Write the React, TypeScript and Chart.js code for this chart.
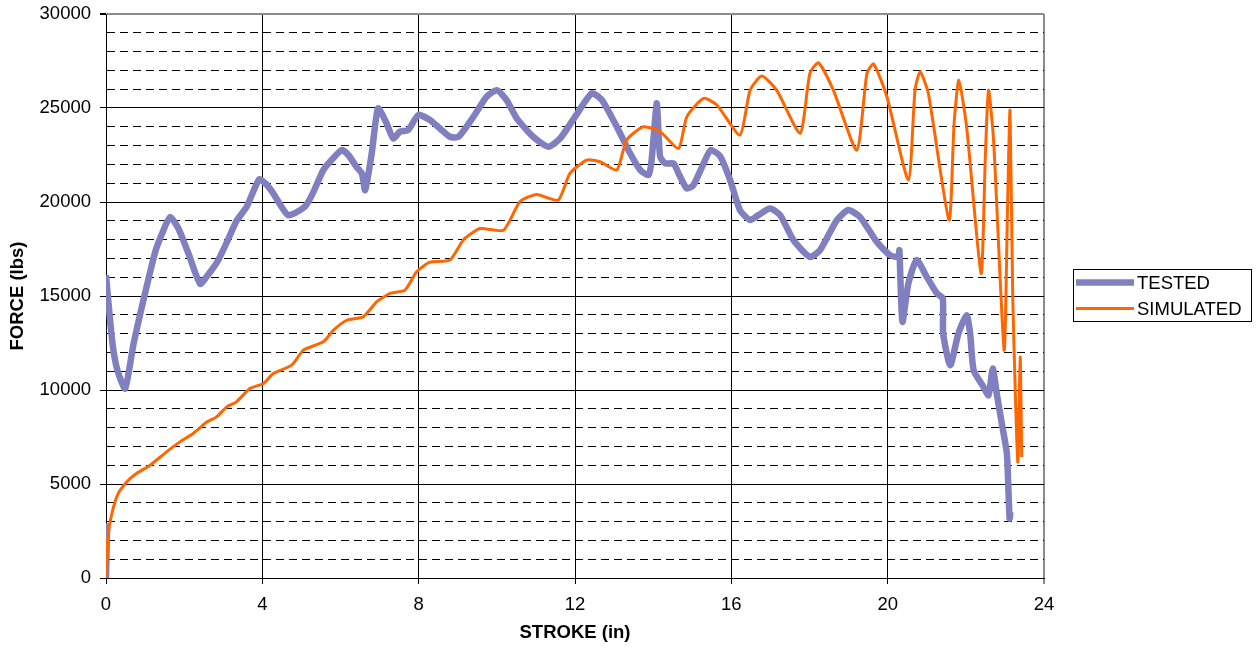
import React, { useEffect, useRef } from "react";
import { Chart, registerables } from "chart.js";

Chart.register(...registerables);

// Measured force–stroke curve (lbs vs in). A null force breaks the trace.
const strokeTested = [
  0, 0.03, 0.03,
  0.0, 0.1, 0.19, 0.3, 0.49, 0.7, 0.96, 1.26, 1.47, 1.64, 1.85, 2.11, 2.41, 2.6, 2.87, 3.1, 3.34,
  3.6, 3.92, 4.1, 4.28, 4.66, 5.09, 5.3, 5.56, 5.8, 6.03, 6.2, 6.41, 6.55, 6.63, 6.8, 6.96, 7.18,
  7.35, 7.52, 7.73, 7.99, 8.29, 8.55, 8.8, 9.02, 9.4, 9.74, 10.0, 10.25, 10.51, 10.93, 11.32,
  11.62, 12.0, 12.43, 12.69, 13.07, 13.41, 13.67, 13.88, 13.96, 14.09, 14.13, 14.18, 14.31,
  14.52, 14.65, 14.86, 15.03, 15.29, 15.47, 15.71, 15.97, 16.22, 16.48, 16.69, 16.99, 17.25,
  17.59, 18.01, 18.27, 18.7, 18.99, 19.29, 19.72, 20.06, 20.27, 20.3, 20.33, 20.38, 20.53,
  20.74, 21.0, 21.26, 21.41, 21.42, 21.6, 21.81, 22.02, 22.11, 22.2, 22.45, 22.58, 22.69,
  22.79, 22.92, 23.05, 23.09, 23.12, 23.14,
];
const forceTested = [
  0, 2900, null,
  16100, 13800, 12100, 11000, 10080, 12400, 14800, 17350, 18500, 19200, 18600, 17260, 15650,
  16100, 16900, 17900, 19000, 19750, 21200, 20950, 20460, 19300, 19750, 20500, 21700, 22300,
  22760, 22500, 21870, 21500, 20630, 22600, 24980, 24180, 23380, 23740, 23830, 24620, 24360,
  23900, 23470, 23470, 24530, 25600, 25950, 25420, 24450, 23470, 22940, 23380, 24530, 25780,
  25420, 24000, 22590, 21700, 21430, 22230, 25250, 24000, 22400, 22050, 22050, 21520, 20720,
  20900, 22050, 22760, 22450, 21170, 19570, 19040, 19300, 19660, 19300, 17970, 17080, 17440,
  19040, 19570, 19210, 17880, 17170, 17080, 17440, 15670, 13620, 15670, 16910, 16020, 15140,
  14870, 13010, 11320, 13010, 13980, 13010, 11050, 10170, 9720, 11140, 9810, 8220, 6620,
  4670, 3160, 3500,
];

// Simulated force–stroke curve (lbs vs in).
const strokeSimulated = [
  0, 0.02, 0.06, 0.15, 0.31, 0.53, 0.78, 1.13, 1.55, 1.89, 2.23, 2.58, 2.83, 3.09, 3.34, 3.68,
  4.03, 4.28, 4.75, 5.05, 5.56, 5.82, 6.16, 6.58, 6.93, 7.27, 7.65, 7.95, 8.29, 8.8, 9.14,
  9.57, 10.17, 10.59, 11.02, 11.57, 11.87, 12.3, 12.64, 13.07, 13.32, 13.75, 14.18, 14.65,
  14.86, 15.29, 15.63, 16.22, 16.48, 16.78, 17.16, 17.76, 18.01, 18.23, 18.61, 19.21, 19.47,
  19.64, 19.98, 20.53, 20.7, 20.83, 21.04, 21.57, 21.7, 21.82, 22.02, 22.39, 22.5, 22.58,
  22.71, 22.98, 23.07, 23.13, 23.2, 23.33, 23.39, 23.43,
];
const forceSimulated = [
  0, 800, 2360, 3430, 4490, 5110, 5560, 6000, 6710, 7240, 7690, 8300, 8570, 9100, 9370, 10080,
  10350, 10880, 11320, 12120, 12560, 13180, 13710, 13890, 14700, 15140, 15310, 16290, 16800,
  16910, 17970, 18590, 18500, 20010, 20400, 20100, 21520, 22230, 22140, 21700, 23290, 24000,
  23740, 22850, 24530, 25510, 25160, 23560, 25950, 26700, 25950, 23650, 26840, 27410, 25950,
  22760, 26840, 27340, 25600, 21170, 25950, 26930, 25780, 19040, 24180, 26480, 24000, 16200,
  22500, 25950, 23290, 12120, 20000, 24870, 15000, 6170, 11760, 6440,
];

const seriesNames = ["TESTED", "SIMULATED"];
const seriesColors = ["#8080C0", "#FF6600"];
const seriesWidths = [6.5, 3];
const xTitle = "STROKE (in)";
const yTitle = "FORCE (lbs)";
const xRange = [0, 24];
const xStep = 4;
const yRange = [0, 30000];
const yMinorStep = 1000;
const yMajorStep = 5000;

const FONT = "'Liberation Sans', Arial, Helvetica, sans-serif";
const FONT_SIZE = 18.5;

const toPoints = (xs: number[], ys: (number | null)[]) =>
  xs.map((x, i) => ({ x, y: ys[i] }));

// Boxed legend to the right of the plot area.
const boxLegend = {
  id: "boxLegend",
  afterDraw(chart: any) {
    const { ctx, chartArea } = chart;
    const left = chartArea.right + 29;
    const mid = (chartArea.top + chartArea.bottom) / 2;
    const top = mid - 27;
    ctx.save();
    ctx.strokeStyle = "#000";
    ctx.lineWidth = 1;
    ctx.strokeRect(Math.round(left) + 0.5, Math.round(top) + 0.5, 178, 52);
    ctx.font = `${FONT_SIZE}px ${FONT}`;
    ctx.textBaseline = "middle";
    ctx.textAlign = "left";
    ctx.fillStyle = "#000";
    const rows = [top + 13.5, top + 39.5];
    seriesNames.forEach((name, i) => {
      ctx.strokeStyle = seriesColors[i];
      ctx.lineWidth = seriesWidths[i];
      ctx.beginPath();
      ctx.moveTo(left + 3, rows[i]);
      ctx.lineTo(left + 61, rows[i]);
      ctx.stroke();
      ctx.fillText(name, left + 64, rows[i] + 1);
    });
    ctx.restore();
  },
};

export default function App() {
  const canvasRef = useRef<HTMLCanvasElement | null>(null);

  useEffect(() => {
    const canvas = canvasRef.current;
    if (!canvas) return;
    Chart.defaults.font.family = FONT;
    Chart.defaults.font.size = FONT_SIZE;
    Chart.defaults.color = "#000";

    const isMajorY = (c: any) => c.tick && c.tick.value % yMajorStep === 0;

    const chart = new Chart(canvas, {
      type: "line",
      data: {
        datasets: [
          {
            label: seriesNames[0],
            data: toPoints(strokeTested, forceTested),
            borderColor: seriesColors[0],
            borderWidth: seriesWidths[0],
            pointRadius: 0,
            tension: 0.2,
            fill: false,
            spanGaps: false,
            order: 2,
          },
          {
            label: seriesNames[1],
            data: toPoints(strokeSimulated, forceSimulated),
            borderColor: seriesColors[1],
            borderWidth: seriesWidths[1],
            pointRadius: 0,
            tension: 0.2,
            fill: false,
            order: 1,
          },
        ],
      },
      options: {
        animation: false,
        responsive: false,
        events: [],
        layout: { padding: { top: 14, right: 213, left: 0, bottom: 0 } },
        plugins: {
          legend: { display: false },
          tooltip: { enabled: false },
        },
        scales: {
          x: {
            type: "linear",
            min: xRange[0],
            max: xRange[1],
            afterFit: (s: any) => {
              s.height = 71;
              s.paddingLeft = 0;
              s.paddingRight = 0;
            },
            ticks: {
              stepSize: xStep,
              padding: 10,
              autoSkip: false,
              maxRotation: 0,
              color: "#000",
            },
            grid: {
              color: (c: any) => (c.tick && c.tick.value === xRange[1] ? "#8c8c8c" : "#000"),
              lineWidth: (c: any) => (c.tick && c.tick.value === xRange[1] ? 2 : 1),
              tickLength: 6,
              tickColor: (c: any) => (c.tick && c.tick.value === xRange[1] ? "#8c8c8c" : "#000"),
              tickBorderDash: [],
            },
            border: { display: true, color: "#000", width: 1 },
            title: {
              display: true,
              text: xTitle,
              font: { weight: "bold", size: FONT_SIZE },
              padding: { top: 0, bottom: 5 },
              color: "#000",
            },
          },
          y: {
            type: "linear",
            min: yRange[0],
            max: yRange[1],
            afterFit: (s: any) => {
              s.width = 106;
              s.paddingTop = 0;
              s.paddingBottom = 0;
            },
            ticks: {
              stepSize: yMinorStep,
              autoSkip: false,
              padding: 9,
              color: "#000",
              callback: (v: any) => (Number(v) % yMajorStep === 0 ? String(v) : ""),
            },
            grid: {
              color: (c: any) =>
                c.tick && c.tick.value === yRange[1] ? "#8c8c8c" : "#000",
              lineWidth: (c: any) => (c.tick && c.tick.value === yRange[1] ? 2 : 1),
              tickLength: 6,
              tickColor: (c: any) => (isMajorY(c) ? "#000" : "rgba(0,0,0,0)"),
              tickBorderDash: [],
            },
            border: {
              display: true,
              color: "#000",
              width: 1,
              dash: (c: any) => (c.tick && !isMajorY(c) ? [8, 5] : []),
            },
            title: {
              display: true,
              text: yTitle,
              font: { weight: "bold", size: FONT_SIZE },
              padding: { top: 7, bottom: 0 },
              color: "#000",
            },
          },
        },
      },
      plugins: [boxLegend],
    } as any);

    return () => chart.destroy();
  }, []);

  return (
    <div style={{ position: "absolute", left: 0, top: 0, width: 1257, height: 649, background: "#fff" }}>
      <canvas ref={canvasRef} width={1257} height={649} />
    </div>
  );
}
